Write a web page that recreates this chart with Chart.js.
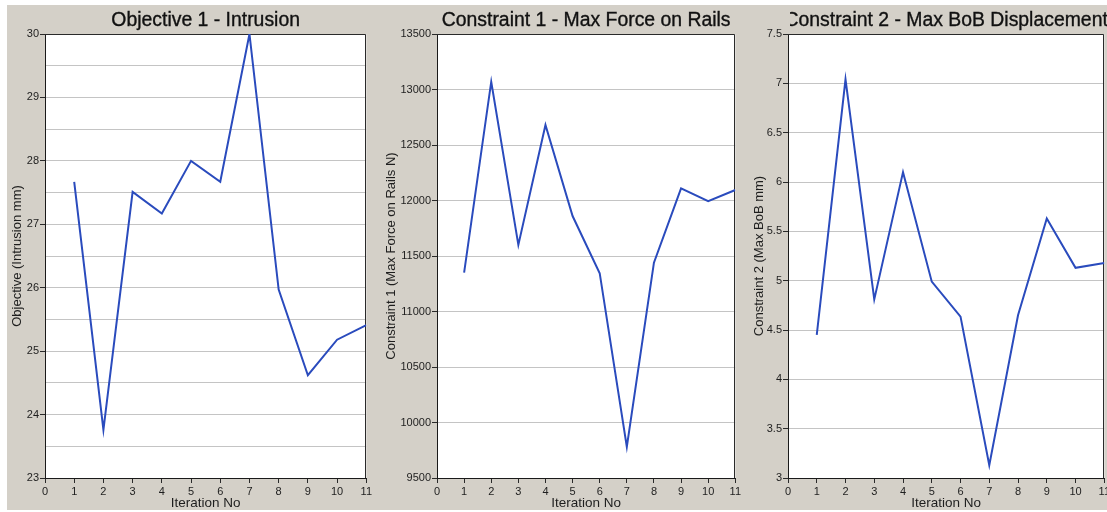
<!DOCTYPE html>
<html>
<head>
<meta charset="utf-8">
<script src="https://cdn.jsdelivr.net/npm/chart.js@4.4.1/dist/chart.umd.min.js"></script>
<style>
  html, body { margin: 0; padding: 0; background: #ffffff; width: 1107px; height: 512px; overflow: hidden; position: relative; }
  #panel { position: absolute; left: 7px; top: 5px; width: 1100px; height: 505px; background: #d4d0c8; }
  .box { position: absolute; top: 0; height: 512px; }
  canvas { display: block; }
</style>
</head>
<body>
<div id="panel"></div>
<div class="box" style="left:0px;width:374px"><canvas id="c1" width="374" height="512"></canvas></div>
<div class="box" style="left:370px;width:373px"><canvas id="c2" width="373" height="512"></canvas></div>
<div class="box" style="left:740px;width:372px"><canvas id="c3" width="372" height="512"></canvas></div>
<script>
// Optimisation history: one value per iteration
const iterations = [1, 2, 3, 4, 5, 6, 7, 8, 9, 10, 11];
const intrusion  = [27.67, 23.76, 27.51, 27.17, 28.0, 27.67, 30.0, 25.97, 24.62, 25.18, 25.41];
const railForce  = [11350, 13070, 11600, 12680, 11860, 11345, 9780, 11440, 12110, 11995, 12095];
const bobDisp    = [4.45, 7.04, 4.81, 6.10, 4.99, 4.635, 3.13, 4.65, 5.63, 5.13, 5.18];

// Axis ranges [min, max, step]
const iterRange      = [0, 11, 1];
const intrusionRange = [23, 30, 0.5];
const forceRange     = [9500, 13500, 500];
const bobRange       = [3, 7.5, 0.5];

const FONT = '"Liberation Sans", Arial, Helvetica, sans-serif';
const INK = '#1e1e1e';
const LINE = '#2a4bbd';

// White plot background plus top/right frame lines
const frame = {
  id: 'frame',
  beforeDraw(chart) {
    const { ctx, chartArea: a } = chart;
    ctx.save();
    ctx.fillStyle = '#ffffff';
    ctx.fillRect(a.left, a.top, a.right - a.left, a.bottom - a.top);
    ctx.restore();
  },
  beforeDatasetsDraw(chart) {
    const { ctx, chartArea: a } = chart;
    const t = Math.round(a.top) + 0.5, r = Math.round(a.right) - 0.5;
    ctx.save();
    ctx.strokeStyle = '#2a2a2a';
    ctx.lineWidth = 1;
    ctx.beginPath();
    ctx.moveTo(a.left, t);
    ctx.lineTo(r, t);
    ctx.lineTo(r, a.bottom);
    ctx.stroke();
    ctx.restore();
  }
};

// Heading centred over the plot area, clipped to the chart panel
function heading(text, clipLeft) {
  return {
    id: 'heading',
    afterDraw(chart) {
      const { ctx, chartArea: a } = chart;
      ctx.save();
      ctx.beginPath();
      ctx.rect(clipLeft, 0, chart.width - clipLeft, a.top);
      ctx.clip();
      ctx.font = '19.4px ' + FONT;
      ctx.fillStyle = '#111111';
      ctx.strokeStyle = '#111111';
      ctx.lineWidth = 0.35;
      ctx.textAlign = 'center';
      ctx.textBaseline = 'alphabetic';
      const cx = (a.left + a.right) / 2;
      ctx.fillText(text, cx, 26);
      ctx.strokeText(text, cx, 26);
      ctx.restore();
    }
  };
}

function makeChart(id, cfg) {
  const [ymin, ymax, ystep] = cfg.range;
  return new Chart(document.getElementById(id), {
    type: 'line',
    data: {
      datasets: [{
        data: iterations.map((x, i) => ({ x: x, y: cfg.values[i] })),
        borderColor: LINE,
        borderWidth: 2,
        pointRadius: 0,
        tension: 0,
        fill: false
      }]
    },
    options: {
      responsive: false,
      animation: false,
      events: [],
      layout: { autoPadding: false, padding: { left: 0, right: 4, top: 34, bottom: 0 } },
      plugins: { legend: { display: false }, tooltip: { enabled: false }, title: { display: false } },
      scales: {
        x: {
          type: 'linear',
          min: iterRange[0], max: iterRange[1],
          ticks: { stepSize: iterRange[2], autoSkip: false, maxRotation: 0, padding: 2,
                   color: INK, font: { family: FONT, size: 11 } },
          grid: { drawOnChartArea: false, tickLength: 5, tickColor: '#2a2a2a' },
          border: { color: '#1a1a1a', width: 1 },
          title: { display: true, text: 'Iteration No', color: INK,
                   font: { family: FONT, size: 13.5 }, padding: { top: 0, bottom: 1 } },
          afterFit(s) { s.height = 34; }
        },
        y: {
          type: 'linear',
          min: ymin, max: ymax,
          ticks: { stepSize: ystep, autoSkip: false, padding: 1, color: INK,
                   font: { family: FONT, size: 11 }, callback: cfg.label },
          grid: { color: '#c4c4c4', lineWidth: 1, tickLength: 5,
                  tickColor: (c) => (cfg.label(c.tick.value) === '' ? 'rgba(0,0,0,0)' : '#2a2a2a') },
          border: { color: '#1a1a1a', width: 1 },
          title: { display: true, text: cfg.yTitle, color: INK,
                   font: { family: FONT, size: 13 }, padding: { top: cfg.titleOffset, bottom: 0 } },
          afterFit(s) { s.width = cfg.axisWidth; }
        }
      }
    },
    plugins: [frame, heading(cfg.title, cfg.clipLeft)]
  });
}

makeChart('c1', {
  values: intrusion, range: intrusionRange,
  title: 'Objective 1 - Intrusion', yTitle: 'Objective (Intrusion mm)',
  label: (v) => (Number.isInteger(v) ? String(v) : ''),
  axisWidth: 45, titleOffset: 10, clipLeft: 0
});

makeChart('c2', {
  values: railForce, range: forceRange,
  title: 'Constraint 1 - Max Force on Rails', yTitle: 'Constraint 1 (Max Force on Rails N)',
  label: (v) => String(v),
  axisWidth: 67, titleOffset: 14, clipLeft: 0
});

makeChart('c3', {
  values: bobDisp, range: bobRange,
  title: 'Constraint 2 - Max BoB Displacement', yTitle: 'Constraint 2 (Max BoB mm)',
  label: (v) => String(v),
  axisWidth: 48, titleOffset: 12, clipLeft: 50
});
</script>
</body>
</html>
